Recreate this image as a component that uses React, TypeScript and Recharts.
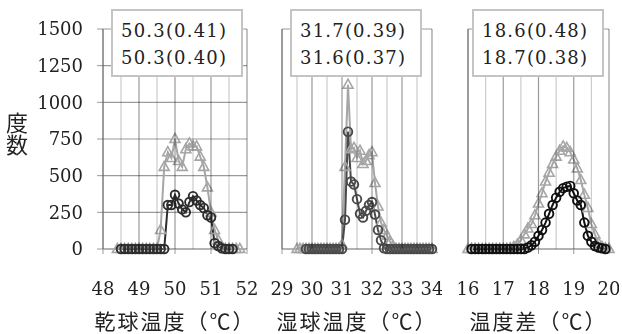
import { CartesianGrid, Label, Line, LineChart, XAxis, YAxis } from "recharts";

// 度数の目盛
const countTicks = [0, 250, 500, 750, 1000, 1250, 1500];

// 乾球温度
const dryBins = [
  48.4, 48.5, 48.6, 48.7, 48.8, 48.9, 49.0, 49.1, 49.2, 49.3, 49.4, 49.5,
  49.6, 49.7, 49.8, 49.9, 50.0, 50.1, 50.2, 50.3, 50.4, 50.5, 50.6, 50.7,
  50.8, 50.9, 51.0, 51.1, 51.2, 51.3, 51.4, 51.5, 51.6, 51.7, 51.8,
];
const dryTri = [
  0, 0, 0, 0, 0, 0, 0, 0, 0, 0, 0, 0,
  130, 560, 660, 620, 750, 600, 560, 680, 720, 700, 700, 630,
  560, 420, 250, 130, 60, 15, 0, 0, 0, 0, 0,
];
const dryCir = [
  null, 0, 0, 0, 0, 0, 0, 0, 0, 0, 0, 0,
  0, 0, 300, 300, 370, 310, 270, 250, 320, 360, 330, 300,
  280, 230, 215, 40, 20, 5, 0, 0, 0, null, null,
];
const dryTicks = [48, 49, 50, 51, 52];

// 湿球温度
const wetBins = [
  29.5, 29.6, 29.7, 29.8, 29.9, 30.0, 30.1, 30.2, 30.3, 30.4, 30.5, 30.6,
  30.7, 30.8, 30.9, 31.0, 31.1, 31.2, 31.3, 31.4, 31.5, 31.6, 31.7, 31.8,
  31.9, 32.0, 32.1, 32.2, 32.3, 32.4, 32.5, 32.6, 32.7, 32.8, 32.9, 33.0,
  33.1, 33.2, 33.3, 33.4, 33.5, 33.6, 33.7, 33.8, 33.9, 34.0,
];
const wetTri = [
  0, 0, 0, 0, 0, 0, 0, 0, 0, 0, 0, 0,
  0, 0, 0, 30, 560, 1120, 680, 690, 620, 670, 580, 600,
  640, 660, 450, 290, 180, 130, 90, 50, 20, 0, 0, 0,
  0, 0, 0, 0, 0, 0, 0, 0, 0, 0,
];
const wetCir = [
  null, null, null, 0, 0, 0, 0, 0, 0, 0, 0, 0,
  0, 0, 0, 0, 200, 800, 460, 440, 340, 240, 215, 260,
  300, 320, 235, 130, 60, 5, 0, 0, 0, 0, 0, 0,
  0, 0, 0, 0, 0, 0, 0, 0, 0, 0,
];
const wetTicks = [29, 30, 31, 32, 33, 34];

// 温度差
const diffBins = [
  16.0, 16.1, 16.2, 16.3, 16.4, 16.5, 16.6, 16.7, 16.8, 16.9, 17.0, 17.1,
  17.2, 17.3, 17.4, 17.5, 17.6, 17.7, 17.8, 17.9, 18.0, 18.1, 18.2, 18.3,
  18.4, 18.5, 18.6, 18.7, 18.8, 18.9, 19.0, 19.1, 19.2, 19.3, 19.4, 19.5,
  19.6, 19.7, 19.8, 19.9, 20.0,
];
const diffTri = [
  0, 0, 0, 0, 0, 0, 0, 0, 0, 0, 0, 0,
  5, 15, 30, 60, 100, 140, 170, 230, 310, 380, 460, 520,
  580, 630, 670, 700, 690, 660, 610, 550, 470, 370, 280, 170,
  100, 40, 15, 5, 0,
];
const diffCir = [
  null, 0, 0, 0, 0, 0, 0, 0, 0, 0, 0, 0,
  0, 0, 0, 0, 0, 10, 25, 50, 90, 130, 180, 240,
  300, 350, 390, 415, 425, 430, 380, 330, 300, 180, 90, 50,
  20, 10, 5, 0, null,
];
const diffTicks = [16, 17, 18, 19, 20];

// 平均(標準偏差)
const dryNotes = ["50.3(0.41)", "50.3(0.40)"];
const wetNotes = ["31.7(0.39)", "31.6(0.37)"];
const diffNotes = ["18.6(0.48)", "18.7(0.38)"];

const GRAY = "#a6a6a6";
const GRID = "#9a9a9a";
const GRID_LIGHT = "#cccccc";
const NUM_FONT = "'DejaVu Serif', serif";
const JP_FONT = "'Noto Sans CJK JP', sans-serif";

const H = 334;
const TOP = 29;
const BOTTOM = 55;
const X_AXIS_H = 30;
const Y_AXIS_W = 60;
const RIGHT = 10;

const Triangle = (props: any) => {
  const { cx, cy, index, value } = props;
  if (cx == null || cy == null || value == null) return <g key={`t${index}`} />;
  return (
    <path
      key={`t${index}`}
      d={`M${cx},${cy - 5.5} L${cx + 5},${cy + 3.5} L${cx - 5},${cy + 3.5} Z`}
      fill="none"
      stroke={GRAY}
      strokeWidth={1.6}
    />
  );
};

function Panel({
  bins, tri, cir, ticks, title, left, width, axisLeft, showLabels, circleColor, notes, noteLeft, noteWidth,
}: any) {
  const rows = bins.map((x: number, i: number) => ({ x, tri: tri[i], cir: cir[i] }));
  const lo = ticks[0];
  const hi = ticks[ticks.length - 1];
  const halfLines = ticks.slice(0, -1).map((t: number) => t + 0.5);

  // 縦の補助線（プロット領域はマージンと軸幅から決まる）。乗算で重ねて線の下に見せる
  const x0 = axisLeft + Y_AXIS_W;
  const x1 = width - RIGHT;
  const y0 = TOP;
  const y1 = H - BOTTOM - X_AXIS_H;
  const px = (v: number) => x0 + ((v - lo) / (hi - lo)) * (x1 - x0);

  return (
    <>
      <div style={{ position: "absolute", left, top: 0, width, height: H }}>
        <div style={{ position: "absolute", left: 0, top: 0 }}>
          <LineChart
            width={width}
            height={H}
            data={rows}
            margin={{ top: TOP, right: RIGHT, bottom: BOTTOM, left: axisLeft }}
          >
            <CartesianGrid vertical={false} stroke={GRID} strokeWidth={1.2} fill="none" />
            <XAxis
              type="number"
              dataKey="x"
              domain={[lo, hi]}
              ticks={ticks}
              height={X_AXIS_H}
              stroke={GRID}
              tickSize={5}
              tickMargin={28}
              tick={{ fontSize: 18, fill: "#222", fontFamily: NUM_FONT }}
              interval={0}
            >
              <Label
                value={title}
                position="bottom"
                offset={35}
                style={{ fontSize: 21, fill: "#222", fontFamily: JP_FONT, letterSpacing: 2 }}
              />
            </XAxis>
            <YAxis
              domain={[0, 1500]}
              ticks={countTicks}
              width={Y_AXIS_W}
              stroke={GRID}
              tickSize={6}
              tickMargin={14}
              tick={showLabels ? { fontSize: 18, fill: "#222", fontFamily: NUM_FONT } : false}
              interval={0}
            />
            <Line
              dataKey="tri"
              stroke={GRAY}
              strokeWidth={2}
              dot={Triangle}
              activeDot={false}
              isAnimationActive={false}
            />
            <Line
              dataKey="cir"
              stroke={circleColor}
              strokeWidth={2}
              dot={{ r: 4.3, stroke: circleColor, strokeWidth: 1.9, fill: "none" }}
              activeDot={false}
              isAnimationActive={false}
            />
          </LineChart>
        </div>
        <svg
          width={width}
          height={H}
          style={{
            position: "absolute",
            left: 0,
            top: 0,
            pointerEvents: "none",
            mixBlendMode: "multiply",
          }}
        >
          {halfLines.map((v: number) => (
            <line key={`h${v}`} x1={px(v)} x2={px(v)} y1={y0} y2={y1} stroke={GRID_LIGHT} strokeWidth={1.2} />
          ))}
          {ticks.map((v: number) => (
            <line key={`i${v}`} x1={px(v)} x2={px(v)} y1={y0} y2={y1} stroke={GRID} strokeWidth={1.2} />
          ))}
        </svg>
      </div>
      <div
        style={{
          position: "absolute",
          left: noteLeft,
          top: 9,
          width: noteWidth,
          height: 68,
          boxSizing: "border-box",
          border: "2px solid #c4c4c4",
          background: "#fff",
          fontFamily: NUM_FONT,
          fontSize: 18,
          letterSpacing: 1.2,
          color: "#222",
          lineHeight: "27px",
          padding: "6px 0 0 8px",
          whiteSpace: "nowrap",
        }}
      >
        <div>{notes[0]}</div>
        <div>{notes[1]}</div>
      </div>
    </>
  );
}

export default function App() {
  return (
    <div
      style={{
        position: "absolute",
        left: 0,
        top: 0,
        width: 622,
        height: 334,
        background: "#fff",
        overflow: "hidden",
      }}
    >
      <Panel
        bins={dryBins}
        tri={dryTri}
        cir={dryCir}
        ticks={dryTicks}
        title="乾球温度（℃）"
        left={0}
        width={257}
        axisLeft={43}
        showLabels
        circleColor="#2e2e2e"
        notes={dryNotes}
        noteLeft={111}
        noteWidth={132}
      />
      <Panel
        bins={wetBins}
        tri={wetTri}
        cir={wetCir}
        ticks={wetTicks}
        title="湿球温度（℃）"
        left={217}
        width={225}
        axisLeft={5}
        showLabels={false}
        circleColor="#4a4a4a"
        notes={wetNotes}
        noteLeft={290}
        noteWidth={132}
      />
      <Panel
        bins={diffBins}
        tri={diffTri}
        cir={diffCir}
        ticks={diffTicks}
        title="温度差（℃）"
        left={403}
        width={216}
        axisLeft={5}
        showLabels={false}
        circleColor="#111"
        notes={diffNotes}
        noteLeft={472}
        noteWidth={132}
      />
      <div
        style={{
          position: "absolute",
          left: 6,
          top: 112,
          fontFamily: JP_FONT,
          fontSize: 22,
          color: "#222",
          writingMode: "vertical-rl",
          lineHeight: "22px",
        }}
      >
        度数
      </div>
    </div>
  );
}
